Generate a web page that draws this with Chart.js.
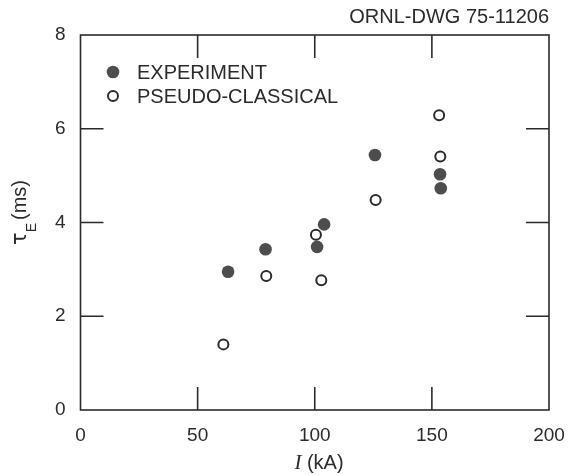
<!DOCTYPE html>
<html>
<head>
<meta charset="utf-8">
<script src="https://cdn.jsdelivr.net/npm/chart.js@4"></script>
<style>
  html, body { margin: 0; padding: 0; background: #fff; }
  #wrap { width: 581px; height: 475px; }
</style>
</head>
<body>
<div id="wrap"><canvas id="chart" width="581" height="475"></canvas></div>
<script>
// current I (kA) and confinement time tauE (ms)
const experimentI = [63, 79, 101, 104, 125.7, 153.5, 153.8];
const experimentTau = [2.95, 3.43, 3.48, 3.96, 5.44, 5.03, 4.73];
const pseudoI = [61, 79.3, 100.5, 102.8, 126, 153.6, 153.1];
const pseudoTau = [1.40, 2.86, 3.74, 2.77, 4.48, 5.41, 6.29];

const xTicks = [0, 50, 100, 150, 200];
const yTicks = [0, 2, 4, 6, 8];

const ink = '#2b2b2b';
const sans = "'Liberation Sans', Arial, sans-serif";

const toPoints = (xs, ys) => xs.map((v, i) => ({ x: v, y: ys[i] }));

const frame = {
  id: 'frame',
  beforeDatasetsDraw(chart) {
    const { ctx, chartArea: a, scales: { x, y } } = chart;
    const len = 23;
    ctx.save();
    ctx.strokeStyle = ink;
    ctx.lineWidth = 1.6;
    ctx.strokeRect(a.left, a.top, a.right - a.left, a.bottom - a.top);
    ctx.beginPath();
    xTicks.slice(1, -1).forEach((v) => {
      const px = x.getPixelForValue(v);
      ctx.moveTo(px, a.bottom); ctx.lineTo(px, a.bottom - len);
      ctx.moveTo(px, a.top); ctx.lineTo(px, a.top + len);
    });
    yTicks.slice(1, -1).forEach((v) => {
      const py = y.getPixelForValue(v);
      ctx.moveTo(a.left, py); ctx.lineTo(a.left + len, py);
      ctx.moveTo(a.right, py); ctx.lineTo(a.right - len, py);
    });
    ctx.stroke();
    ctx.restore();
  },
  afterDraw(chart) {
    const { ctx, chartArea: a } = chart;
    ctx.save();
    ctx.fillStyle = ink;

    // drawing number, top right
    ctx.font = '20px ' + sans;
    ctx.textAlign = 'right';
    ctx.textBaseline = 'middle';
    ctx.fillText('ORNL-DWG 75-11206', a.right, 17);

    // legend
    ctx.textAlign = 'left';
    ctx.font = '20px ' + sans;
    ctx.beginPath();
    ctx.arc(113, 72, 6.3, 0, Math.PI * 2);
    ctx.fillStyle = '#4d4d4d';
    ctx.fill();
    ctx.beginPath();
    ctx.arc(113, 96, 5, 0, Math.PI * 2);
    ctx.lineWidth = 2;
    ctx.strokeStyle = ink;
    ctx.stroke();
    ctx.fillStyle = ink;
    ctx.fillText('EXPERIMENT', 137, 73);
    ctx.fillText('PSEUDO-CLASSICAL', 137, 97);

    // x title: I (kA)
    ctx.textBaseline = 'alphabetic';
    ctx.font = 'italic 21px "Liberation Serif", serif';
    const iw = ctx.measureText('I').width;
    ctx.font = '20px ' + sans;
    const rest = ' (kA)';
    const rw = ctx.measureText(rest).width;
    const x0 = 319 - (iw + rw) / 2;
    ctx.font = 'italic 21px "Liberation Serif", serif';
    ctx.fillText('I', x0, 469);
    ctx.font = '20px ' + sans;
    ctx.fillText(rest, x0 + iw, 469);

    // y title: tauE (ms), rotated
    ctx.translate(26, 245);
    ctx.rotate(-Math.PI / 2);
    ctx.font = '21px "DejaVu Sans", sans-serif';
    ctx.fillText('τ', 0, 0);
    let w = ctx.measureText('τ').width;
    ctx.font = '14px ' + sans;
    ctx.fillText('E', w, 10);
    w += ctx.measureText('E').width + 3;
    ctx.font = '20px ' + sans;
    ctx.fillText('(ms)', w, 0);
    ctx.restore();
  }
};

new Chart('chart', {
  type: 'scatter',
  data: {
    datasets: [
      {
        label: 'EXPERIMENT',
        data: toPoints(experimentI, experimentTau),
        backgroundColor: '#4d4d4d',
        borderColor: '#4d4d4d',
        borderWidth: 0,
        pointRadius: 6.3,
        order: 2,
      },
      {
        label: 'PSEUDO-CLASSICAL',
        data: toPoints(pseudoI, pseudoTau),
        backgroundColor: '#ffffff',
        borderColor: ink,
        borderWidth: 2,
        pointRadius: 5,
        order: 1,
      },
    ],
  },
  options: {
    responsive: false,
    animation: false,
    layout: { padding: { top: 35, right: 32, left: 0, bottom: 0 } },
    plugins: {
      legend: { display: false },
      tooltip: { enabled: false },
    },
    scales: {
      x: {
        type: 'linear',
        min: 0,
        max: 200,
        afterFit: (s) => { s.height = 65; },
        afterBuildTicks: (s) => { s.ticks = xTicks.map((v) => ({ value: v })); },
        grid: { display: false, drawTicks: false },
        border: { display: false },
        ticks: { padding: 14, color: ink, font: { family: sans, size: 19 } },
      },
      y: {
        type: 'linear',
        min: 0,
        max: 8,
        afterFit: (s) => { s.width = 80.5; },
        afterBuildTicks: (s) => { s.ticks = yTicks.map((v) => ({ value: v })); },
        grid: { display: false, drawTicks: false },
        border: { display: false },
        ticks: { padding: 15, color: ink, font: { family: sans, size: 19 } },
      },
    },
  },
  plugins: [frame],
});
</script>
</body>
</html>
